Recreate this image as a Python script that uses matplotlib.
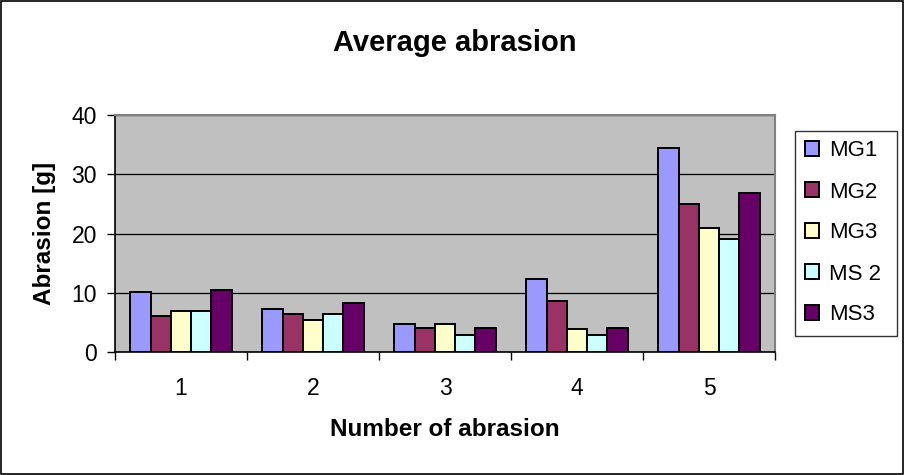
import matplotlib
matplotlib.use("Agg")
import matplotlib.pyplot as plt
import numpy as np
from matplotlib.patches import Rectangle

plt.rcParams["font.family"] = ["Liberation Sans", "DejaVu Sans"]

# data
categories = ["1", "2", "3", "4", "5"]
series_names = ["MG1", "MG2", "MG3", "MS 2", "MS3"]
mg1 = [10.1, 7.3, 4.7, 12.3, 34.5]
mg2 = [6.0, 6.4, 4.1, 8.6, 25.0]
mg3 = [7.0, 5.4, 4.7, 3.8, 20.9]
ms2 = [7.0, 6.4, 2.8, 2.8, 19.0]
ms3 = [10.4, 8.3, 4.1, 4.1, 26.9]
colors = ["#9999FF", "#993366", "#FFFFCC", "#CCFFFF", "#660066"]

values = [mg1, mg2, mg3, ms2, ms3]

fig = plt.figure(figsize=(9.05, 4.75), dpi=100)
fig.patch.set_facecolor("white")
fig.patches.append(Rectangle((0.001, 0.002), 0.997, 0.996, transform=fig.transFigure,
                             fill=False, edgecolor="black", linewidth=1.2))

ax = fig.add_axes([115 / 905, 1 - 352 / 475, 660 / 905, 237 / 475])
ax.set_facecolor("#C0C0C0")

x = np.arange(1, len(categories) + 1)
w = 1 / 6.5
for k, (name, vals, c) in enumerate(zip(series_names, values, colors)):
    ax.bar(x + (k - 2) * w, vals, width=w, color=c, edgecolor="black",
           linewidth=1.4, label=name, zorder=3)

ax.set_xlim(0.5, 5.5)
ax.set_ylim(0, 40)
ax.set_yticks([0, 10, 20, 30, 40])
ax.yaxis.grid(True, color="black", linewidth=0.9, zorder=0)
ax.set_axisbelow(True)

# category boundaries get the tick marks, labels sit in the middle
ax.set_xticks(np.arange(0.5, 6.0, 1.0))
ax.set_xticklabels([])
ax.set_xticks(x, minor=True)
ax.set_xticklabels(categories, minor=True)
ax.tick_params(axis="x", which="major", direction="out", length=6, width=1, color="black")
ax.tick_params(axis="x", which="minor", length=0, pad=18, labelsize=16.5)
ax.tick_params(axis="y", direction="out", length=6, width=1, labelsize=16.5, pad=7)

for s in ["top", "right"]:
    ax.spines[s].set_color("#808080")
    ax.spines[s].set_linewidth(1.5)
for s in ["left", "bottom"]:
    ax.spines[s].set_color("black")
    ax.spines[s].set_linewidth(1.2)

ax.set_xlabel("Number of abrasion", fontsize=17.5, fontweight="bold", labelpad=13)
ax.set_ylabel("Abrasion [g]", fontsize=17.5, fontweight="bold", labelpad=11)
fig.text(455 / 905, 1 - 43 / 475, "Average abrasion", fontsize=21, fontweight="bold",
         ha="center", va="center")

leg = fig.legend(loc="center left", mode="expand",
                 bbox_to_anchor=(795 / 905, 1 - 332 / 475, 102 / 905, 198 / 475),
                 fontsize=16, frameon=True, fancybox=False, edgecolor="black",
                 handlelength=0.65, handleheight=0.65, handletextpad=0.45,
                 labelspacing=0.9, borderpad=0.45, borderaxespad=0)
leg.get_frame().set_linewidth(1)

fig.savefig("out.png", dpi=100)
